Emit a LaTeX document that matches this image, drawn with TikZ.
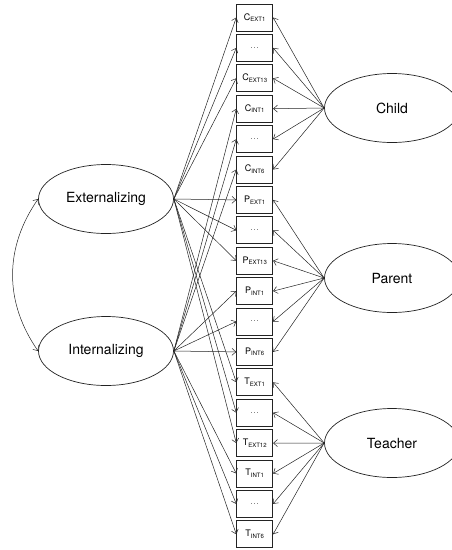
\documentclass[tikz,border=0pt]{standalone}
\usepackage{fontspec}
\setmainfont{TeX Gyre Heros}
\usetikzlibrary{arrows.meta,shapes.geometric}

\newcommand{\boxlab}[2]{#1\raisebox{-0.35ex}{\fontsize{6}{6}\selectfont #2}}

\begin{document}
\begin{tikzpicture}[x=1pt,y=-1pt,
        factor/.style={ellipse, draw=linecolor, line width=0.7pt,
            minimum width=135pt, minimum height=69pt, inner sep=0pt,
            font=\fontsize{14}{16}\selectfont},
        item/.style={rectangle, draw=linecolor, line width=0.8pt,
            minimum width=36pt, minimum height=27pt, inner sep=0pt,
            font=\fontsize{9}{10}\selectfont},
        load/.style={draw=linecolor, line width=0.5pt,
            -{Straight Barb[length=4pt,width=7pt]}},
        corr/.style={draw=linecolor, line width=0.5pt,
            {Straight Barb[length=4pt,width=7pt]}-{Straight Barb[length=4pt,width=7pt]}}]
        % -- colour definitions --------------------------------------------------
        \definecolor{linecolor}{RGB}{35,35,35}
        \definecolor{dotcolor}{RGB}{120,120,120}

        \useasboundingbox (0,0) rectangle (451,550);

        % -- trait factors -------------------------------------------------------
        \node[factor] (ext) at (106,199) {Externalizing};
        \node[factor] (int) at (106,351) {Internalizing};

        % -- method factors ------------------------------------------------------
        \node[factor] (child)   at (392,108) {Child};
        \node[factor] (parent)  at (392,278) {Parent};
        \node[factor] (teacher) at (392,443) {Teacher};

        % -- indicators ----------------------------------------------------------
        \foreach \i/\lab in {0/{\boxlab{C}{EXT1}}, 1/{\textcolor{dotcolor}{\ldots}},
                2/{\boxlab{C}{EXT13}}, 3/{\boxlab{C}{INT1}},
                4/{\textcolor{dotcolor}{\ldots}}, 5/{\boxlab{C}{INT6}},
                6/{\boxlab{P}{EXT1}}, 7/{\textcolor{dotcolor}{\ldots}},
                8/{\boxlab{P}{EXT13}}, 9/{\boxlab{P}{INT1}},
                10/{\textcolor{dotcolor}{\ldots}}, 11/{\boxlab{P}{INT6}},
                12/{\boxlab{T}{EXT1}}, 13/{\textcolor{dotcolor}{\ldots}},
                14/{\boxlab{T}{EXT12}}, 15/{\boxlab{T}{INT1}},
                16/{\textcolor{dotcolor}{\ldots}}, 17/{\boxlab{T}{INT6}}} {
            \node[item] (b\i) at (254.7,{17.5+30.4*\i}) {\lab};
        }

        % -- trait loadings ------------------------------------------------------
        \foreach \i in {0,1,2,6,7,8,12,13,14} {
            \draw[load] (ext.east) -- (b\i.west);
        }
        \foreach \i in {3,4,5,9,10,11,15,16,17} {
            \draw[load] (int.east) -- (b\i.west);
        }

        % -- method loadings -----------------------------------------------------
        \foreach \i in {0,...,5} {
            \draw[load] (child.west) -- (b\i.east);
        }
        \foreach \i in {6,...,11} {
            \draw[load] (parent.west) -- (b\i.east);
        }
        \foreach \i in {12,...,17} {
            \draw[load] (teacher.west) -- (b\i.east);
        }

        % -- trait correlation ---------------------------------------------------
        \draw[corr] (ext.west) to[bend right=35] (int.west);
    \end{tikzpicture}
\end{document}
